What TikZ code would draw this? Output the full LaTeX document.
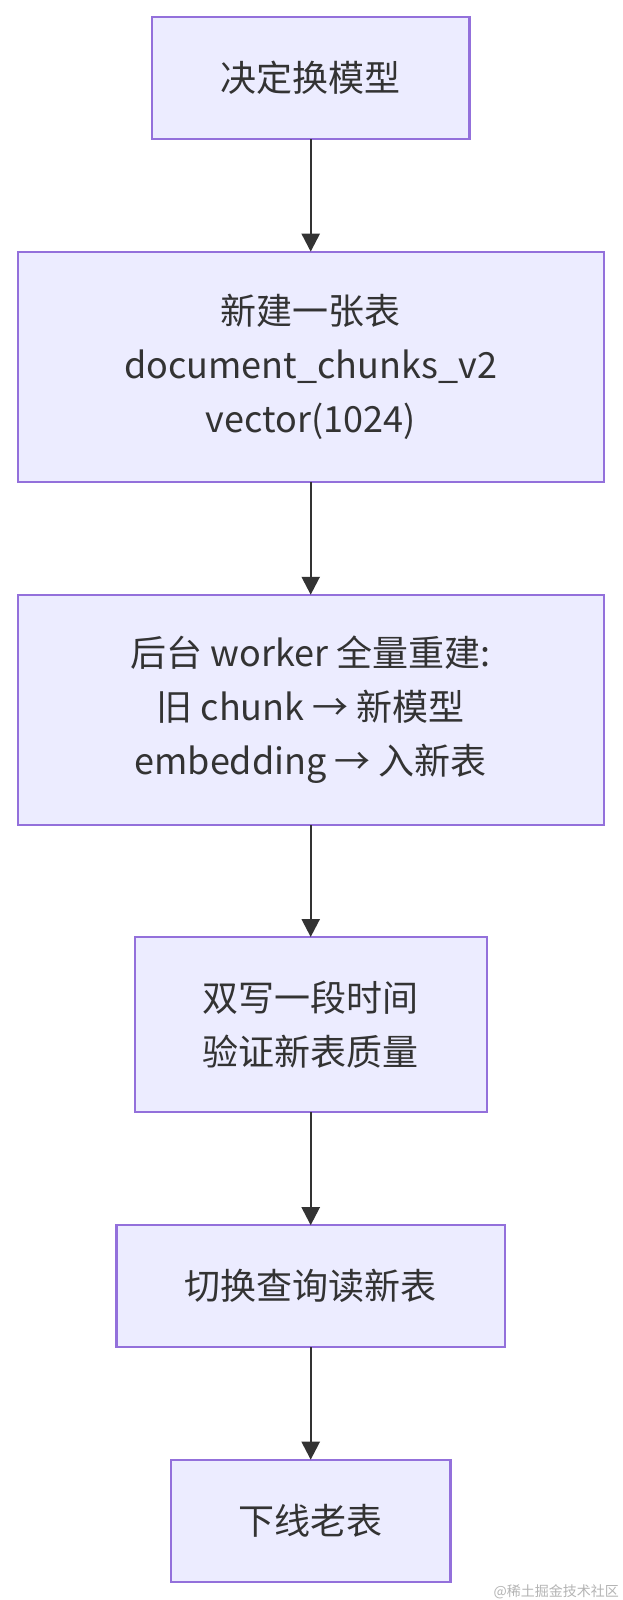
\documentclass[tikz,border=0pt]{standalone}
\usepackage{fontspec}
\setmainfont{Noto Sans CJK SC}
\usetikzlibrary{arrows.meta}
\definecolor{boxfill}{HTML}{ECECFF}
\definecolor{boxline}{HTML}{9370DB}
\definecolor{inkcol}{HTML}{333333}
\definecolor{wmcol}{HTML}{B4B4B4}
\tikzset{
  flowbox/.style={draw=boxline, fill=boxfill, line width=2.25pt, rectangle,
    inner sep=0pt, outer sep=0pt, align=center, text=inkcol,
    font=\fontsize{36}{54}\selectfont},
  flowarrow/.style={draw=inkcol, line width=2.4pt,
    -{Triangle[length=18pt,width=18pt]}},
  watermark/.style={text=wmcol, font=\fontsize{14}{16}\selectfont, inner sep=0pt, anchor=east}
}
\begin{document}
\begin{tikzpicture}[x=1pt,y=1pt]
\useasboundingbox[fill=white] (0,0) rectangle (622,-1600);
\node[flowbox, minimum width=317.4pt, minimum height=121.7pt] (b1) at (310.7,-78.2) {决定换模型};
\node[flowbox, minimum width=586pt, minimum height=230.3pt] (b2) at (310.7,-366.8) {新建一张表\\document\_chunks\_v2\\vector(1024)};
\node[flowbox, minimum width=586pt, minimum height=230.3pt] (b3) at (310.7,-709.9) {后台 worker 全量重建:\\旧 chunk → 新模型\\embedding → 入新表};
\node[flowbox, minimum width=352pt, minimum height=175pt] (b4) at (310.7,-1024.5) {双写一段时间\\验证新表质量};
\node[flowbox, minimum width=388.3pt, minimum height=122pt] (b5) at (310.7,-1286.2) {切换查询读新表};
\node[flowbox, minimum width=279.4pt, minimum height=122pt] (b6) at (310.7,-1520.7) {下线老表};
\draw[flowarrow] (b1.south) -- (b2.north);
\draw[flowarrow] (b2.south) -- (b3.north);
\draw[flowarrow] (b3.south) -- (b4.north);
\draw[flowarrow] (b4.south) -- (b5.north);
\draw[flowarrow] (b5.south) -- (b6.north);
\node[watermark] (wm) at (619,-1592) {@稀土掘金技术社区};
\end{tikzpicture}
\end{document}
